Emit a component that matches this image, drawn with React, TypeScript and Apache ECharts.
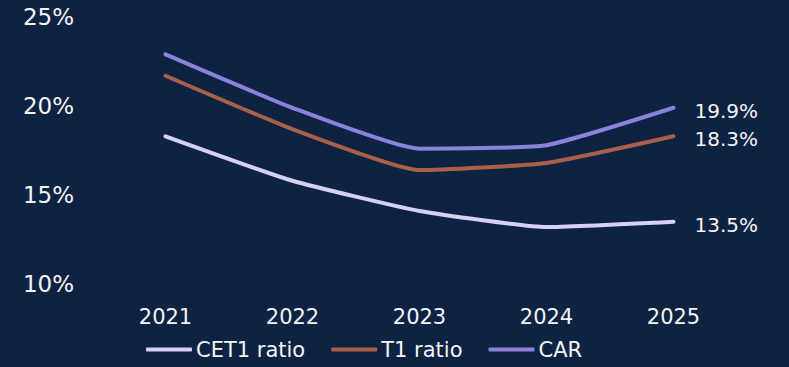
import React, { useEffect, useRef } from "react";
import * as echarts from "echarts";

const years = ["2021", "2022", "2023", "2024", "2025"];
const cet1 = [18.3, 15.8, 14.1, 13.2, 13.5];
const t1 = [21.7, 18.7, 16.4, 16.8, 18.3];
const car = [22.9, 19.9, 17.6, 17.8, 19.9];
const yTicks = [10, 15, 20, 25];

const BG = "#0e2342";
const TEXT = "#f4f4f6";
const FONT = "DejaVu Sans";

export default function App() {
  const ref = useRef<HTMLDivElement>(null);
  useEffect(() => {
    if (!ref.current) return;
    const chart = echarts.init(ref.current, undefined, { renderer: "svg" });
    const mk = (name: string, data: number[], color: string) => ({
      name,
      type: "line",
      data,
      smooth: 0.15,
      symbol: "none",
      lineStyle: { color, width: 4, cap: "round", join: "round" },
      itemStyle: { color },
      endLabel: {
        show: true,
        formatter: (p: any) => p.value.toFixed(1) + "%",
        color: TEXT,
        fontSize: 20,
        fontFamily: FONT,
        distance: 21,
        offset: [0, 3],
      },
    });
    chart.setOption({
      animation: false,
      backgroundColor: BG,
      grid: { left: 102, right: 52, top: 17, bottom: 83, containLabel: false },
      xAxis: {
        type: "category",
        data: years,
        boundaryGap: true,
        axisLine: { show: false },
        axisTick: { show: false },
        axisLabel: { color: TEXT, fontSize: 21, fontFamily: FONT, margin: 22 },
      },
      yAxis: {
        type: "value",
        min: yTicks[0],
        max: yTicks[yTicks.length - 1],
        interval: 5,
        splitLine: { show: false },
        axisLine: { show: false },
        axisTick: { show: false },
        axisLabel: {
          color: TEXT,
          fontSize: 23,
          fontFamily: FONT,
          margin: 28,
          formatter: "{value}%",
        },
      },
      legend: {
        bottom: 2,
        left: 141,
        icon: "roundRect",
        itemWidth: 46,
        itemHeight: 4,
        itemGap: 26,
        textStyle: { color: TEXT, fontSize: 21, fontFamily: FONT, padding: [0, 0, 0, -1] },
        data: ["CET1 ratio", "T1 ratio", "CAR"],
      },
      series: [
        mk("CET1 ratio", cet1, "#d6d1f0"),
        mk("T1 ratio", t1, "#a9604a"),
        mk("CAR", car, "#8b82da"),
      ],
    });
    return () => chart.dispose();
  }, []);
  return (
    <div
      ref={ref}
      style={{ position: "fixed", left: 0, top: 0, width: 789, height: 367 }}
    />
  );
}
